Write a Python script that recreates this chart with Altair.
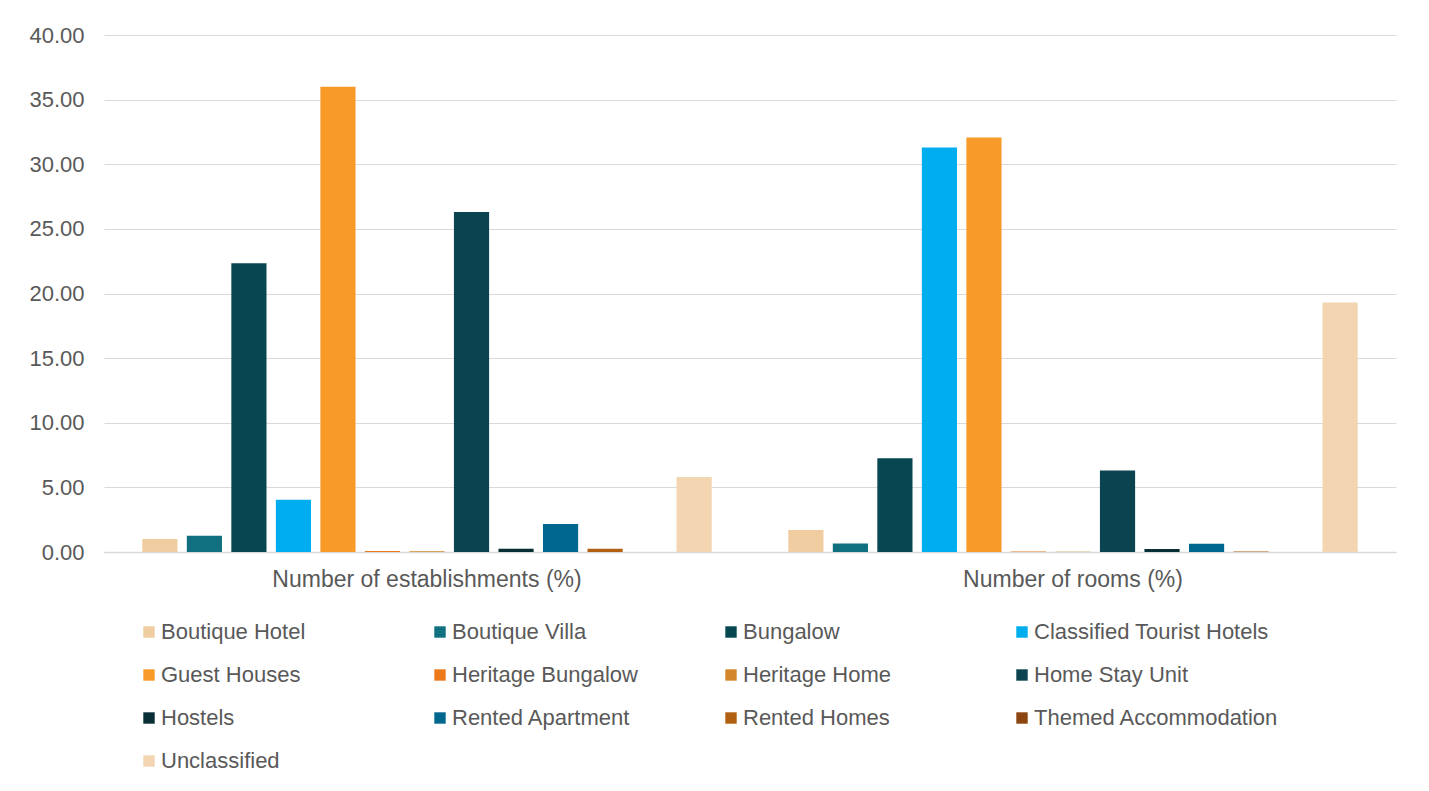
import altair as alt
import pandas as pd

groups = ["Number of establishments (%)", "Number of rooms (%)"]
types = [
    "Boutique Hotel", "Boutique Villa", "Bungalow", "Classified Tourist Hotels",
    "Guest Houses", "Heritage Bungalow", "Heritage Home", "Home Stay Unit",
    "Hostels", "Rented Apartment", "Rented Homes", "Themed Accommodation",
    "Unclassified",
]
establishments = [1.0, 1.25, 22.35, 4.05, 36.0, 0.08, 0.05, 26.3, 0.25, 2.17, 0.25, 0.0, 5.8]
rooms = [1.7, 0.65, 7.25, 31.3, 32.07, 0.03, 0.02, 6.3, 0.23, 0.64, 0.04, 0.0, 19.31]
colors = [
    "#F0CDA0", "#117080", "#074752", "#00AEEF",
    "#F89A28", "#EC7A1C", "#D4862A", "#0B4450",
    "#072F35", "#00688F", "#B06010", "#8C4511",
    "#F3D5B2",
]

rows = []
for g, vals in zip(groups, [establishments, rooms]):
    for t, v in zip(types, vals):
        rows.append({"group": g, "type": t, "value": v})
df = pd.DataFrame(rows)

FONT = "Liberation Sans"
GREY = "#595959"

chart = alt.Chart(df).mark_bar().encode(
    x=alt.X("group:N", sort=groups,
            scale=alt.Scale(paddingInner=0, paddingOuter=0),
            axis=alt.Axis(title=None, labelAngle=0, ticks=False, domain=True,
                          domainColor="#d9d9d9", domainWidth=1.5, labelLimit=0,
                          labelPadding=16, labelFontSize=23, labelColor=GREY,
                          labelFont=FONT, grid=False)),
    xOffset=alt.XOffset("type:N", sort=types,
                        scale=alt.Scale(paddingInner=0.21, paddingOuter=0.86)),
    y=alt.Y("value:Q",
            scale=alt.Scale(domain=[0, 40], nice=False),
            axis=alt.Axis(title=None, values=[0, 5, 10, 15, 20, 25, 30, 35, 40],
                          format=".2f", domain=False, ticks=False,
                          labelPadding=20, labelFontSize=22, labelColor=GREY,
                          labelFont=FONT, gridColor="#d9d9d9", gridWidth=1.2)),
    color=alt.Color("type:N", sort=types,
                    scale=alt.Scale(domain=types, range=colors),
                    legend=alt.Legend(title=None, orient="none", legendX=34, legendY=586,
                                      direction="horizontal", columns=4,
                                      gridAlign="all", columnPadding=23, rowPadding=21,
                                      symbolType="square", symbolSize=130,
                                      symbolStrokeWidth=0, labelOffset=1,
                                      labelFontSize=22, labelColor=GREY,
                                      labelFont=FONT, labelLimit=400)),
).properties(
    width=1292,
    height=517,
    background="white",
    autosize=alt.AutoSizeParams(type="none"),
    padding={"left": 96, "top": 27, "right": 20, "bottom": 230},
).configure_view(stroke=None)

chart.save("out.html", embed_options={"renderer": "svg", "actions": False})
